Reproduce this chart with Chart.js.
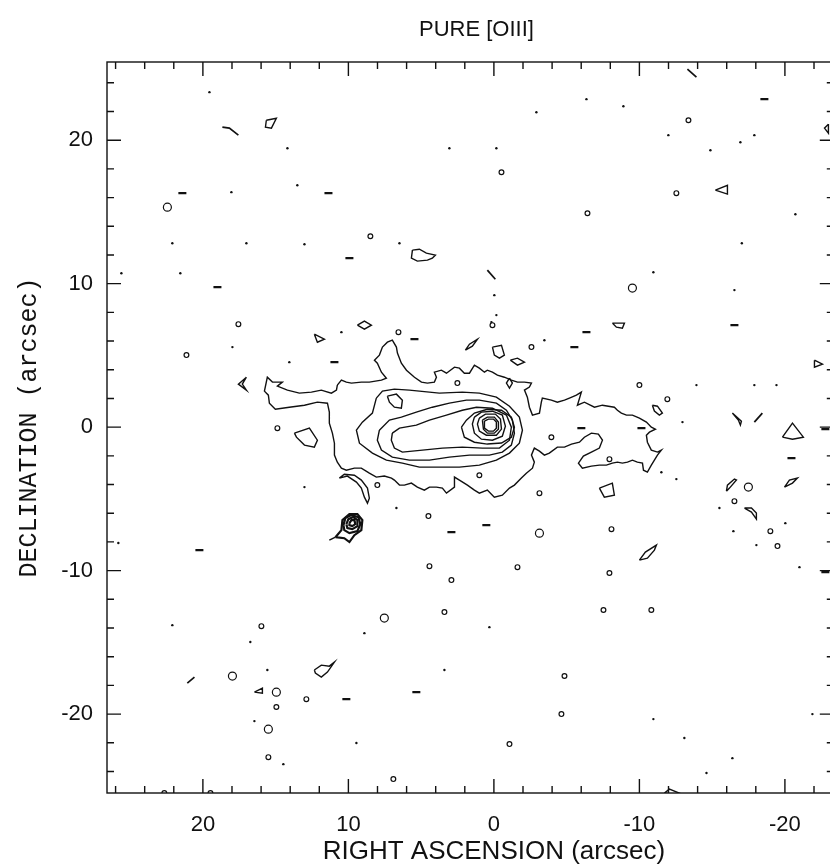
<!DOCTYPE html>
<html>
<head>
<meta charset="utf-8">
<script src="https://cdn.jsdelivr.net/npm/chart.js@4.4.1/dist/chart.umd.min.js"></script>
<style>
  html, body { margin: 0; padding: 0; background: #fff; overflow: hidden; }
  #wrap { width: 830px; height: 866px; overflow: hidden; }
</style>
</head>
<body>
<div id="wrap"><canvas id="oiiiMap" width="840" height="866"></canvas></div>
<script>
// [OIII] contour map, offsets in arcsec (RA increases to the left)
var xTicks = [20, 10, 0, -10, -20];
var yTicks = [20, 10, 0, -10, -20];
var minorStep = 2;

// outermost contour round the nebula
var level1 = [
  [10.76,2.93],[10.48,3.28],[10.14,3.14],[9.79,3.07],[9.11,3.14],[8.56,3.14],[7.73,3.28],[7.39,3.41],[7.73,3.83],[8.01,4.46],
  [8.21,4.67],[7.87,5.02],[7.66,5.58],[7.32,5.92],[6.98,6.06],[6.70,5.58],[6.63,5.16],[6.36,4.46],[6.01,3.97],[5.46,3.48],
  [4.98,3.14],[4.57,3.07],[4.09,3.14],[3.95,3.48],[4.09,3.83],[3.61,3.97],[3.26,3.76],[2.71,4.18],[2.37,4.11],[2.03,3.76],
  [1.68,3.76],[1.34,4.32],[1.00,4.11],[0.65,3.83],[0.45,3.97],[0.10,3.83],[-0.24,3.62],[-0.72,3.48],[-1.20,3.28],[-1.62,3.14],
  [-2.10,3.14],[-2.58,3.07],[-2.44,2.79],[-2.10,2.58],[-2.30,2.09],[-2.44,1.39],[-2.65,0.84],[-3.13,0.98],[-3.26,1.74],[-3.33,2.02],
  [-3.95,1.88],[-4.36,1.74],[-4.85,1.88],[-5.19,2.02],[-5.67,2.23],[-6.01,2.44],[-5.74,1.53],[-6.22,1.74],[-6.91,1.39],[-7.46,1.53],
  [-8.28,1.39],[-8.49,1.18],[-8.76,0.98],[-9.11,0.84],[-9.52,0.84],[-10.00,0.63],[-10.48,0.35],[-10.82,0],[-11.10,-0.14],[-10.69,-0.35],
  [-10.48,-0.56],[-10.55,-1.05],[-10.82,-1.60],[-11.24,-1.74],[-11.51,-1.60],[-11.24,-1.95],[-11.03,-2.30],[-10.82,-2.65],[-10.55,-3.14],[-10.28,-3.00],
  [-10.21,-2.51],[-9.86,-2.44],[-9.52,-2.30],[-9.18,-2.44],[-8.83,-2.51],[-8.49,-2.44],[-8.14,-2.51],[-7.73,-2.65],[-7.25,-2.65],[-6.70,-2.72],
  [-6.08,-2.86],[-5.81,-2.51],[-6.15,-2.02],[-6.70,-1.74],[-7.25,-1.46],[-7.46,-0.91],[-7.18,-0.49],[-6.70,-0.42],[-6.22,-0.70],[-5.88,-1.05],
  [-5.33,-1.18],[-4.85,-1.39],[-4.36,-1.39],[-3.81,-1.81],[-3.47,-1.95],[-3.13,-1.67],[-2.78,-1.46],[-2.58,-1.95],[-2.78,-2.44],[-2.65,-2.86],
  [-2.23,-3.21],[-1.89,-3.55],[-1.41,-4.04],[-1.07,-4.25],[-0.58,-4.74],[-0.03,-4.88],[0.45,-4.39],[1.00,-4.60],[1.34,-4.39],[1.82,-4.04],
  [2.37,-3.69],[2.71,-3.48],[2.71,-4.18],[3.26,-4.60],[3.54,-4.25],[3.95,-4.18],[4.43,-4.18],[4.78,-4.39],[5.26,-4.18],[5.67,-3.90],
  [6.15,-4.04],[6.49,-4.04],[6.84,-3.69],[7.04,-3.55],[7.53,-3.41],[8.08,-3.48],[8.56,-3.21],[9.11,-2.86],[9.59,-2.86],[10.14,-3.00],
  [10.48,-2.86],[10.76,-2.44],[10.96,-1.95],[10.96,-1.12],[11.10,-0.42],[11.31,0.28],[11.31,1.05],[11.44,1.67],[12.13,1.74],[13.02,1.53],
  [14.06,1.39],[15.02,1.25],[15.43,1.67],[15.50,2.23],[15.77,2.51],[15.57,3.48],[15.22,3.14],[14.54,3.14],[14.88,2.86],[14.19,2.58],
  [13.37,2.37],[12.54,2.44],[11.86,2.58],[11.17,2.37],[10.82,2.58]
];
var level2 = [
  [8.08,2.02],[7.66,2.51],[6.84,2.65],[5.81,2.58],[5.12,2.51],[3.75,2.37],[2.17,2.44],[1.00,2.37],[-0.17,2.09],[-1.07,1.46],
  [-1.75,0.70],[-1.96,-0.21],[-1.75,-1.12],[-1.07,-1.81],[-0.17,-2.30],[1.00,-2.65],[2.37,-2.79],[3.75,-2.79],[5.12,-2.79],[6.29,-2.51],
  [7.39,-2.30],[8.35,-1.81],[9.24,-1.12],[9.45,-0.21],[9.04,0.35],[8.35,0.98]
];
var level2Hole = [[7.32,2.16],[6.70,2.30],[6.29,1.88],[6.36,1.32],[6.84,1.39],[7.18,1.74]];
var level3 = [
  [7.87,-0.21],[7.18,0.49],[6.36,0.70],[5.33,1.05],[4.23,1.39],[3.06,1.67],[1.89,1.88],[1.00,1.88],[-0.17,1.67],[-0.86,1.18],
  [-1.27,0.49],[-1.41,-0.42],[-1.20,-1.25],[-0.58,-1.74],[0.31,-1.95],[1.68,-1.95],[3.06,-2.09],[4.43,-2.30],[5.81,-2.30],[6.98,-2.09],
  [7.73,-1.60],[8.01,-0.91]
];
var level4 = [
  [6.98,-0.42],[6.49,-0.07],[5.33,0.14],[4.43,0.49],[3.26,0.84],[2.17,1.18],[1.20,1.39],[0.10,1.32],[-0.86,0.84],[-1.20,0],
  [-1.07,-0.91],[-0.38,-1.46],[0.79,-1.46],[2.17,-1.39],[3.54,-1.46],[4.91,-1.60],[6.29,-1.74],[6.84,-1.46],[7.05,-0.91]
];
// nested contours of the nucleus
var level5 = [[2.23,0],[1.89,0.49],[1.34,0.98],[0.45,1.25],[-0.52,1.18],[-1.20,0.70],[-1.41,0],[-1.20,-0.70],[-0.52,-1.11],[0.45,-1.18],[1.34,-1.05],[2.03,-0.70]];
var level6 = [[1.34,0.70],[0.86,1.05],[0.10,1.11],[-0.58,0.84],[-0.79,0.07],[-0.58,-0.63],[0.10,-0.91],[0.86,-0.84],[1.34,-0.42],[1.48,0.21]];
var level7 = [[1.00,0.63],[0.58,0.91],[-0.10,0.91],[-0.45,0.56],[-0.52,-0.14],[-0.17,-0.56],[0.52,-0.56],[1.00,-0.28],[1.13,0.21]];
var level8 = [[0.79,0.49],[0.45,0.70],[-0.03,0.70],[-0.31,0.35],[-0.31,-0.14],[-0.03,-0.42],[0.45,-0.42],[0.72,-0.14]];
var level9 = [[0.65,0.42],[0.38,0.56],[0.03,0.56],[-0.17,0.35],[-0.17,-0.07],[0.03,-0.28],[0.38,-0.28],[0.65,-0.07]];

// compact knot south-east of the nebula
var knot1 = [[10.89,-7.67],[10.48,-7.18],[10.41,-6.48],[9.93,-6.06],[9.38,-6.06],[9.04,-6.48],[9.11,-7.18],[9.59,-7.53],[9.93,-8.01],[10.28,-7.74]];
var knot2 = [[10.34,-6.83],[10.21,-6.34],[9.79,-6.13],[9.31,-6.27],[9.18,-6.76],[9.38,-7.25],[9.93,-7.39],[10.28,-7.18]];
var knot3 = [[10.14,-6.76],[10.00,-6.41],[9.66,-6.27],[9.38,-6.48],[9.38,-6.90],[9.73,-7.11],[10.07,-7.04]];
var knot4 = [[9.93,-6.69],[9.79,-6.48],[9.59,-6.48],[9.52,-6.76],[9.73,-6.90],[9.93,-6.83]];
var knotTail = [[11.31,-7.88],[10.89,-7.67]];

// isolated closed patches
var patchSouth = [[10.62,-3.55],[10.07,-3.41],[9.45,-3.83],[9.11,-4.25],[8.90,-4.88],[8.69,-5.30],[8.56,-4.95],[8.69,-4.25],[9.11,-3.69],[9.59,-3.35],[10.28,-3.28]];
var patchWest = [[13.71,-0.42],[12.68,-0.07],[12.13,-0.91],[12.34,-1.39],[13.02,-1.25],[13.57,-0.70]];
var patchNorth = [[5.60,12.34],[5.12,12.40],[4.64,12.13],[4.02,11.99],[4.23,11.78],[4.57,11.64],[5.26,11.57],[5.67,11.78]];
var patchSW = [[12.34,-16.93],[11.86,-16.59],[11.31,-16.66],[10.96,-16.38],[11.44,-17.07],[11.86,-17.42],[12.27,-17.14]];
var smallPatches = [
  [[15.64,21.39],[14.95,21.53],[15.29,20.84],[15.70,20.91]],
  [[-22.99,21.12],[-22.72,20.84],[-22.99,20.49]],
  [[9.38,7.11],[8.90,7.39],[8.42,7.11],[8.90,6.83]],
  [[12.34,6.48],[11.65,6.13],[12.13,5.92]],
  [[1.96,5.37],[1.68,5.78],[1.13,6.13],[1.48,5.64]],
  [[0.10,5.58],[-0.52,5.71],[-0.72,5.02],[-0.38,4.81],[-0.03,5.02]],
  [[-1.13,4.67],[-1.62,4.81],[-2.10,4.53],[-1.62,4.32]],
  [[-8.14,7.25],[-8.97,7.25],[-8.83,6.90],[-8.42,6.97]],
  [[-1.07,3.41],[-1.27,3.07],[-1.07,2.72],[-0.86,3.07]],
  [[-10.89,1.53],[-11.24,1.46],[-11.58,0.98],[-11.37,0.84],[-11.03,1.12]],
  [[-7.25,-4.25],[-8.14,-3.90],[-8.28,-4.74],[-7.59,-4.88]],
  [[-10.00,-9.27],[-10.41,-8.71],[-11.17,-8.22],[-11.03,-8.57],[-10.55,-9.13]],
  [[-16.39,0.98],[-17.01,0.42],[-16.94,0.14],[-16.80,0.49]],
  [[-19.83,-0.70],[-20.52,0.28],[-21.27,-0.70],[-20.52,-0.84]],
  [[-19.97,-4.18],[-20.31,-3.69],[-20.86,-3.55],[-20.52,-3.90]],
  [[-15.98,-4.46],[-16.05,-4.04],[-16.53,-3.62],[-16.67,-3.69],[-16.19,-4.25]],
  [[-17.22,-5.64],[-17.70,-5.64],[-18.04,-5.99],[-18.04,-6.41],[-17.70,-5.92]],
  [[16.46,-18.47],[15.91,-18.19],[15.91,-18.54]],
  [[-11.72,-25.51],[-12.06,-25.23],[-13.09,-25.65]],
  [[17.01,3.48],[17.56,3.00],[17.01,2.58],[17.29,3.00]],
  [[-15.22,16.52],[-16.05,16.86],[-16.05,16.24]],
  [[-22.03,4.67],[-22.58,4.39],[-22.03,4.18]]
];
// short open strokes
var strokes = [
  [[18.66,20.91],[18.18,20.84],[17.56,20.35]],
  [[-13.30,24.95],[-13.92,24.39]],
  [[-17.90,0.35],[-18.45,0.98]],
  [[21.07,-17.84],[20.58,-17.42]],
  [[0.45,10.94],[-0.10,10.31]]
];

// single-pixel peaks
var dots = [
  [19.55,23.35],[14.19,19.44],[-8.90,22.37],[-11.99,20.35],[-14.88,19.30],[-16.94,19.86],[-17.90,20.35],[-2.92,21.95],[-6.36,22.86],[3.06,19.44],
  [-0.17,19.44],[18.04,16.38],[13.51,16.86],[22.10,12.82],[17.01,12.82],[13.02,12.75],[6.49,12.82],[25.60,10.73],[21.55,10.73],[17.97,5.58],
  [10.48,6.62],[14.06,4.53],[-3.47,6.06],[-12.96,0.35],[-11.51,-3.14],[-12.54,-3.62],[-13.92,2.93],[-17.90,2.93],[-19.42,2.93],[-15.50,-5.64],
  [-20.03,-6.69],[-16.46,-7.25],[-18.04,-8.22],[-21.00,-9.76],[22.10,-13.80],[8.90,-14.36],[15.57,-16.93],[16.46,-20.49],[9.45,-22.02],[14.47,-23.49],
  [-14.61,-24.11],[-16.39,-23.07],[13.02,-4.18],[6.70,-5.64],[-0.03,9.20],[-0.17,7.81],[0.17,7.32],[25.81,-8.08],[0.31,-13.94],[-10.96,-20.35],
  [-13.09,-21.67],[-21.89,-20.00],[-17.04,12.82],[-20.72,14.84],[-16.53,9.55],[-10.96,10.80],[16.74,-14.98],[3.40,-16.93]
];
var smallRings = [
  [-13.37,21.39],[-0.52,17.77],[-6.43,14.91],[-12.54,16.31],[8.49,13.31],[17.56,7.18],[21.13,5.02],[6.56,6.62],[0.10,7.11],[-2.58,5.58],
  [2.51,3.07],[-10.00,2.93],[-11.92,1.95],[-3.95,-0.70],[-7.94,-2.23],[8.01,-4.04],[-3.13,-4.60],[-8.08,-7.11],[-7.94,-10.17],[-16.53,-5.16],
  [-19.00,-7.25],[-19.49,-8.29],[15.98,-13.87],[3.40,-12.89],[12.89,-18.96],[14.95,-19.51],[15.50,-23.00],[6.91,-24.53],[14.88,-0.07],[4.43,-9.69],
  [2.92,-10.66],[-1.62,-9.76],[-7.53,-12.75],[-10.82,-12.75],[-4.85,-17.35],[-4.64,-20.00],[-1.07,-22.09],[4.50,-6.20],[1.00,-3.35],[22.65,-25.5],
  [19.48,-25.5]
];
var largeRings = [
  [22.44,15.33],[14.95,-18.47],[15.50,-21.05],[17.97,-17.35],[7.53,-13.31],[-3.13,-7.39],[-17.49,-4.18],[-9.52,9.69]
];
var dashes = [
  [21.41,16.31],[11.37,16.31],[10.96,4.53],[10.14,-18.96],[5.33,-18.47],[-18.59,22.86],[19.00,9.76],[9.93,11.78],[5.46,6.13],[-5.53,5.58],
  [-6.36,6.62],[-6.01,-0.07],[-10.14,-0.07],[-20.45,-2.16],[2.92,-7.32],[0.52,-6.83],[-16.53,7.11],[20.24,-8.57],[-22.78,-0.14],[-22.78,-10.10]
];

function toXY(pairs, closed) {
  var pts = pairs.map(function(p) { return { x: p[0], y: p[1] }; });
  if (closed) pts.push({ x: pairs[0][0], y: pairs[0][1] });
  return pts;
}

function contourSet(pairs, closed, width) {
  return {
    data: toXY(pairs, closed),
    showLine: true,
    borderColor: '#111',
    borderWidth: width || 1.4,
    pointRadius: 0,
    fill: false,
    tension: 0
  };
}

var closedContours = [level1, level2, level2Hole, level3, level4, level5, level6, level7, level8, level9,
  patchSouth, patchWest, patchNorth, patchSW].concat(smallPatches);

var datasets = closedContours.map(function(c) { return contourSet(c, true); });
// the knot contours crowd together, so draw them heavier
[knot1, knot2, knot3, knot4].forEach(function(k) { datasets.push(contourSet(k, true, 2.2)); });
strokes.forEach(function(s) { datasets.push(contourSet(s, false, 1.7)); });
datasets.push(contourSet(knotTail, false));

datasets.push({
  data: toXY(dots, false), pointRadius: 1.2, pointBackgroundColor: '#111', pointBorderWidth: 0, showLine: false
});
datasets.push({
  data: toXY(smallRings, false), pointRadius: 2.4, pointBackgroundColor: '#fff', pointBorderColor: '#111', pointBorderWidth: 1.2, showLine: false
});
datasets.push({
  data: toXY(largeRings, false), pointRadius: 4, pointBackgroundColor: '#fff', pointBorderColor: '#111', pointBorderWidth: 1.2, showLine: false
});
datasets.push({
  data: toXY(dashes, false), pointStyle: 'line', pointRadius: 4, pointBorderColor: '#111', pointBorderWidth: 2.2, showLine: false
});

// box with inward ticks on all four sides, plus the centred titles
var framePlugin = {
  id: 'frame',
  afterDraw: function(chart) {
    var ctx = chart.ctx, a = chart.chartArea, xs = chart.scales.x, ys = chart.scales.y;
    ctx.save();
    ctx.strokeStyle = '#111';
    ctx.lineWidth = 1.4;
    ctx.strokeRect(a.left, a.top, a.right - a.left, a.bottom - a.top);
    ctx.beginPath();
    var v, p, len;
    for (v = Math.ceil(xs.min / minorStep) * minorStep; v <= xs.max; v += minorStep) {
      p = xs.getPixelForValue(v);
      len = v % 10 === 0 ? 14 : 7;
      ctx.moveTo(p, a.bottom); ctx.lineTo(p, a.bottom - len);
      ctx.moveTo(p, a.top); ctx.lineTo(p, a.top + len);
    }
    for (v = Math.ceil(ys.min / minorStep) * minorStep; v <= ys.max; v += minorStep) {
      p = ys.getPixelForValue(v);
      len = v % 10 === 0 ? 14 : 7;
      ctx.moveTo(a.left, p); ctx.lineTo(a.left + len, p);
      ctx.moveTo(a.right, p); ctx.lineTo(a.right - len, p);
    }
    ctx.stroke();

    ctx.fillStyle = '#111';
    ctx.textAlign = 'center';
    ctx.textBaseline = 'middle';
    ctx.font = '22px "Liberation Sans", Arial, sans-serif';
    ctx.fillText('PURE [OIII]', xs.getPixelForValue(1.2), 30);
    ctx.font = '26px "Liberation Sans", Arial, sans-serif';
    ctx.fillText('RIGHT ASCENSION (arcsec)', xs.getPixelForValue(0), 852);
    ctx.restore();
  }
};

var tickFont = { family: '"Liberation Sans", Arial, sans-serif', size: 22 };

new Chart(document.getElementById('oiiiMap').getContext('2d'), {
  type: 'scatter',
  data: { datasets: datasets },
  options: {
    responsive: false,
    animation: false,
    devicePixelRatio: 1,
    layout: { padding: { top: 62, right: 5, left: 0, bottom: 0 } },
    plugins: { legend: { display: false }, tooltip: { enabled: false } },
    scales: {
      x: {
        type: 'linear', reverse: true, min: -23.36, max: 26.59,
        grid: { display: false, drawTicks: false },
        border: { display: false },
        ticks: { font: tickFont, color: '#111', padding: 19, maxRotation: 0 },
        afterBuildTicks: function(scale) { scale.ticks = xTicks.map(function(v) { return { value: v }; }); },
        afterFit: function(scale) { scale.height = 73; }
      },
      y: {
        type: 'linear', min: -25.5, max: 25.45,
        grid: { display: false, drawTicks: false },
        border: { display: false },
        ticks: { font: tickFont, color: '#111', padding: 14 },
        title: {
          display: true, text: 'DECLINATION (arcsec)', color: '#111',
          font: { family: '"Liberation Mono", "Courier New", monospace', size: 25 },
          padding: { top: 14, bottom: 0 }
        },
        afterBuildTicks: function(scale) { scale.ticks = yTicks.map(function(v) { return { value: v }; }); },
        afterFit: function(scale) { scale.width = 107; }
      }
    }
  },
  plugins: [framePlugin]
});
</script>
</body>
</html>
